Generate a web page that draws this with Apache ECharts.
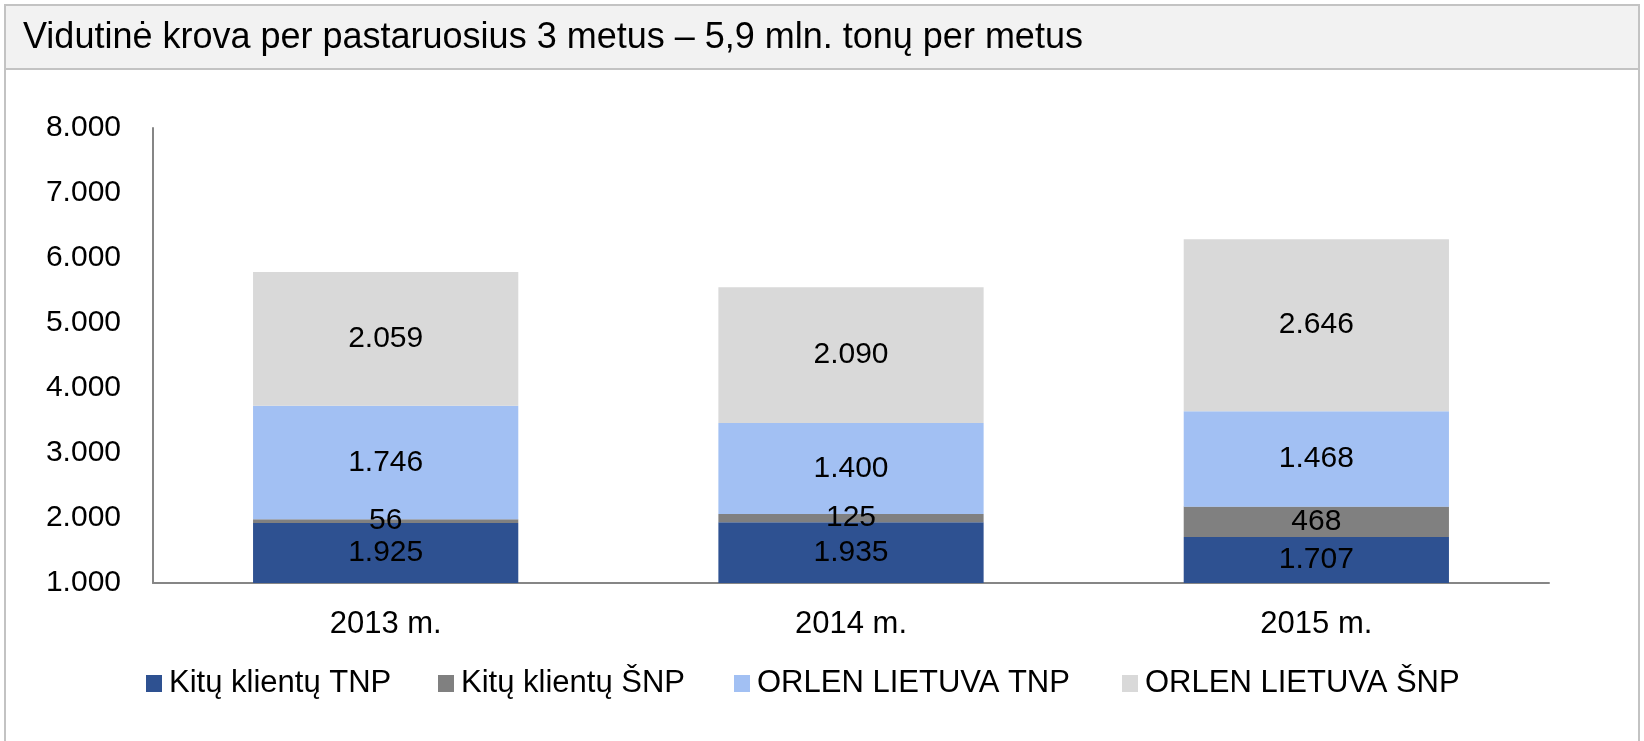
<!DOCTYPE html>
<html>
  <head>
    <meta charset="utf-8" />
    <title>Vidutinė krova</title>
    <style>
      html, body { margin: 0; padding: 0; background: #fff; }
    </style>
  </head>
  <body>
    <script src="https://cdn.jsdelivr.net/npm/echarts@6/dist/echarts.min.js"></script>

    <div id="chart" style="width: 1644px; height: 741px"></div>

    <script>
      const years = ['2013 m.', '2014 m.', '2015 m.'];
      const kituTnp = [1925, 1935, 1707];
      const kituSnp = [56, 125, 468];
      const orlenTnp = [1746, 1400, 1468];
      const orlenSnp = [2059, 2090, 2646];

      const seriesNames = [
        'Kitų klientų TNP',
        'Kitų klientų ŠNP',
        'ORLEN LIETUVA TNP',
        'ORLEN LIETUVA ŠNP',
      ];
      const colors = ['#2e5191', '#808080', '#a2c0f3', '#d9d9d9'];

      const FONT = '"Liberation Sans", Arial, sans-serif';

      // 1925 -> "1.925"
      function fmt(v) {
        return String(v).replace(/\B(?=(\d{3})+(?!\d))/g, '.');
      }

      function barSeries(i, data) {
        return {
          name: seriesNames[i],
          type: 'bar',
          stack: 'total',
          barWidth: '57%',
          data: data,
          itemStyle: { color: colors[i] },
          label: {
            show: true,
            position: 'inside',
            color: '#000',
            fontFamily: FONT,
            fontSize: 30,
            formatter: (p) => fmt(p.value),
          },
        };
      }

      // one legend per item so each sits where it does in the original
      const legendLeft = [146, 438, 734, 1122];
      const legends = seriesNames.map((name, i) => ({
        data: [name],
        left: legendLeft[i],
        top: 668,
        padding: 0,
        itemWidth: 16,
        itemHeight: 17,
        icon: 'rect',
        selectedMode: false,
        textStyle: {
          fontFamily: FONT,
          fontSize: 31,
          color: '#000',
          padding: [0, 0, 0, 2],
        },
      }));

      let myChart = echarts.init(document.getElementById('chart'), null, {
        width: 1644,
        height: 741,
      });

      myChart.setOption({
        animation: false,
        graphic: [
          {
            type: 'rect',
            shape: { x: 5, y: 5, width: 1634, height: 760 },
            style: { fill: '#fff', stroke: '#c3c3c3', lineWidth: 2 },
            z: -10,
          },
          {
            type: 'rect',
            shape: { x: 5, y: 5, width: 1634, height: 64 },
            style: { fill: '#f2f2f2', stroke: '#c3c3c3', lineWidth: 2 },
            z: -9,
          },
        ],
        title: {
          text: 'Vidutinė krova per pastaruosius 3 metus – 5,9 mln. tonų per metus',
          left: 23,
          top: 20,
          padding: 0,
          textStyle: {
            fontFamily: FONT,
            fontSize: 36,
            fontWeight: 'normal',
            color: '#000',
          },
        },
        legend: legends,
        grid: {
          left: 153,
          right: 95,
          top: 128,
          bottom: 158,
        },
        xAxis: {
          type: 'category',
          data: years,
          axisLine: { lineStyle: { color: '#868686', width: 2 } },
          axisTick: { show: false },
          axisLabel: {
            color: '#000',
            fontFamily: FONT,
            fontSize: 31,
            margin: 26,
          },
        },
        yAxis: {
          type: 'value',
          min: 1000,
          max: 8000,
          interval: 1000,
          axisLine: { show: true, lineStyle: { color: '#868686', width: 2 } },
          axisTick: { show: false },
          splitLine: { show: false },
          axisLabel: {
            color: '#000',
            fontFamily: FONT,
            fontSize: 30,
            margin: 32,
            formatter: (v) => fmt(v),
          },
        },
        series: [
          barSeries(0, kituTnp),
          barSeries(1, kituSnp),
          barSeries(2, orlenTnp),
          barSeries(3, orlenSnp),
        ],
      });
    </script>
  </body>
</html>
